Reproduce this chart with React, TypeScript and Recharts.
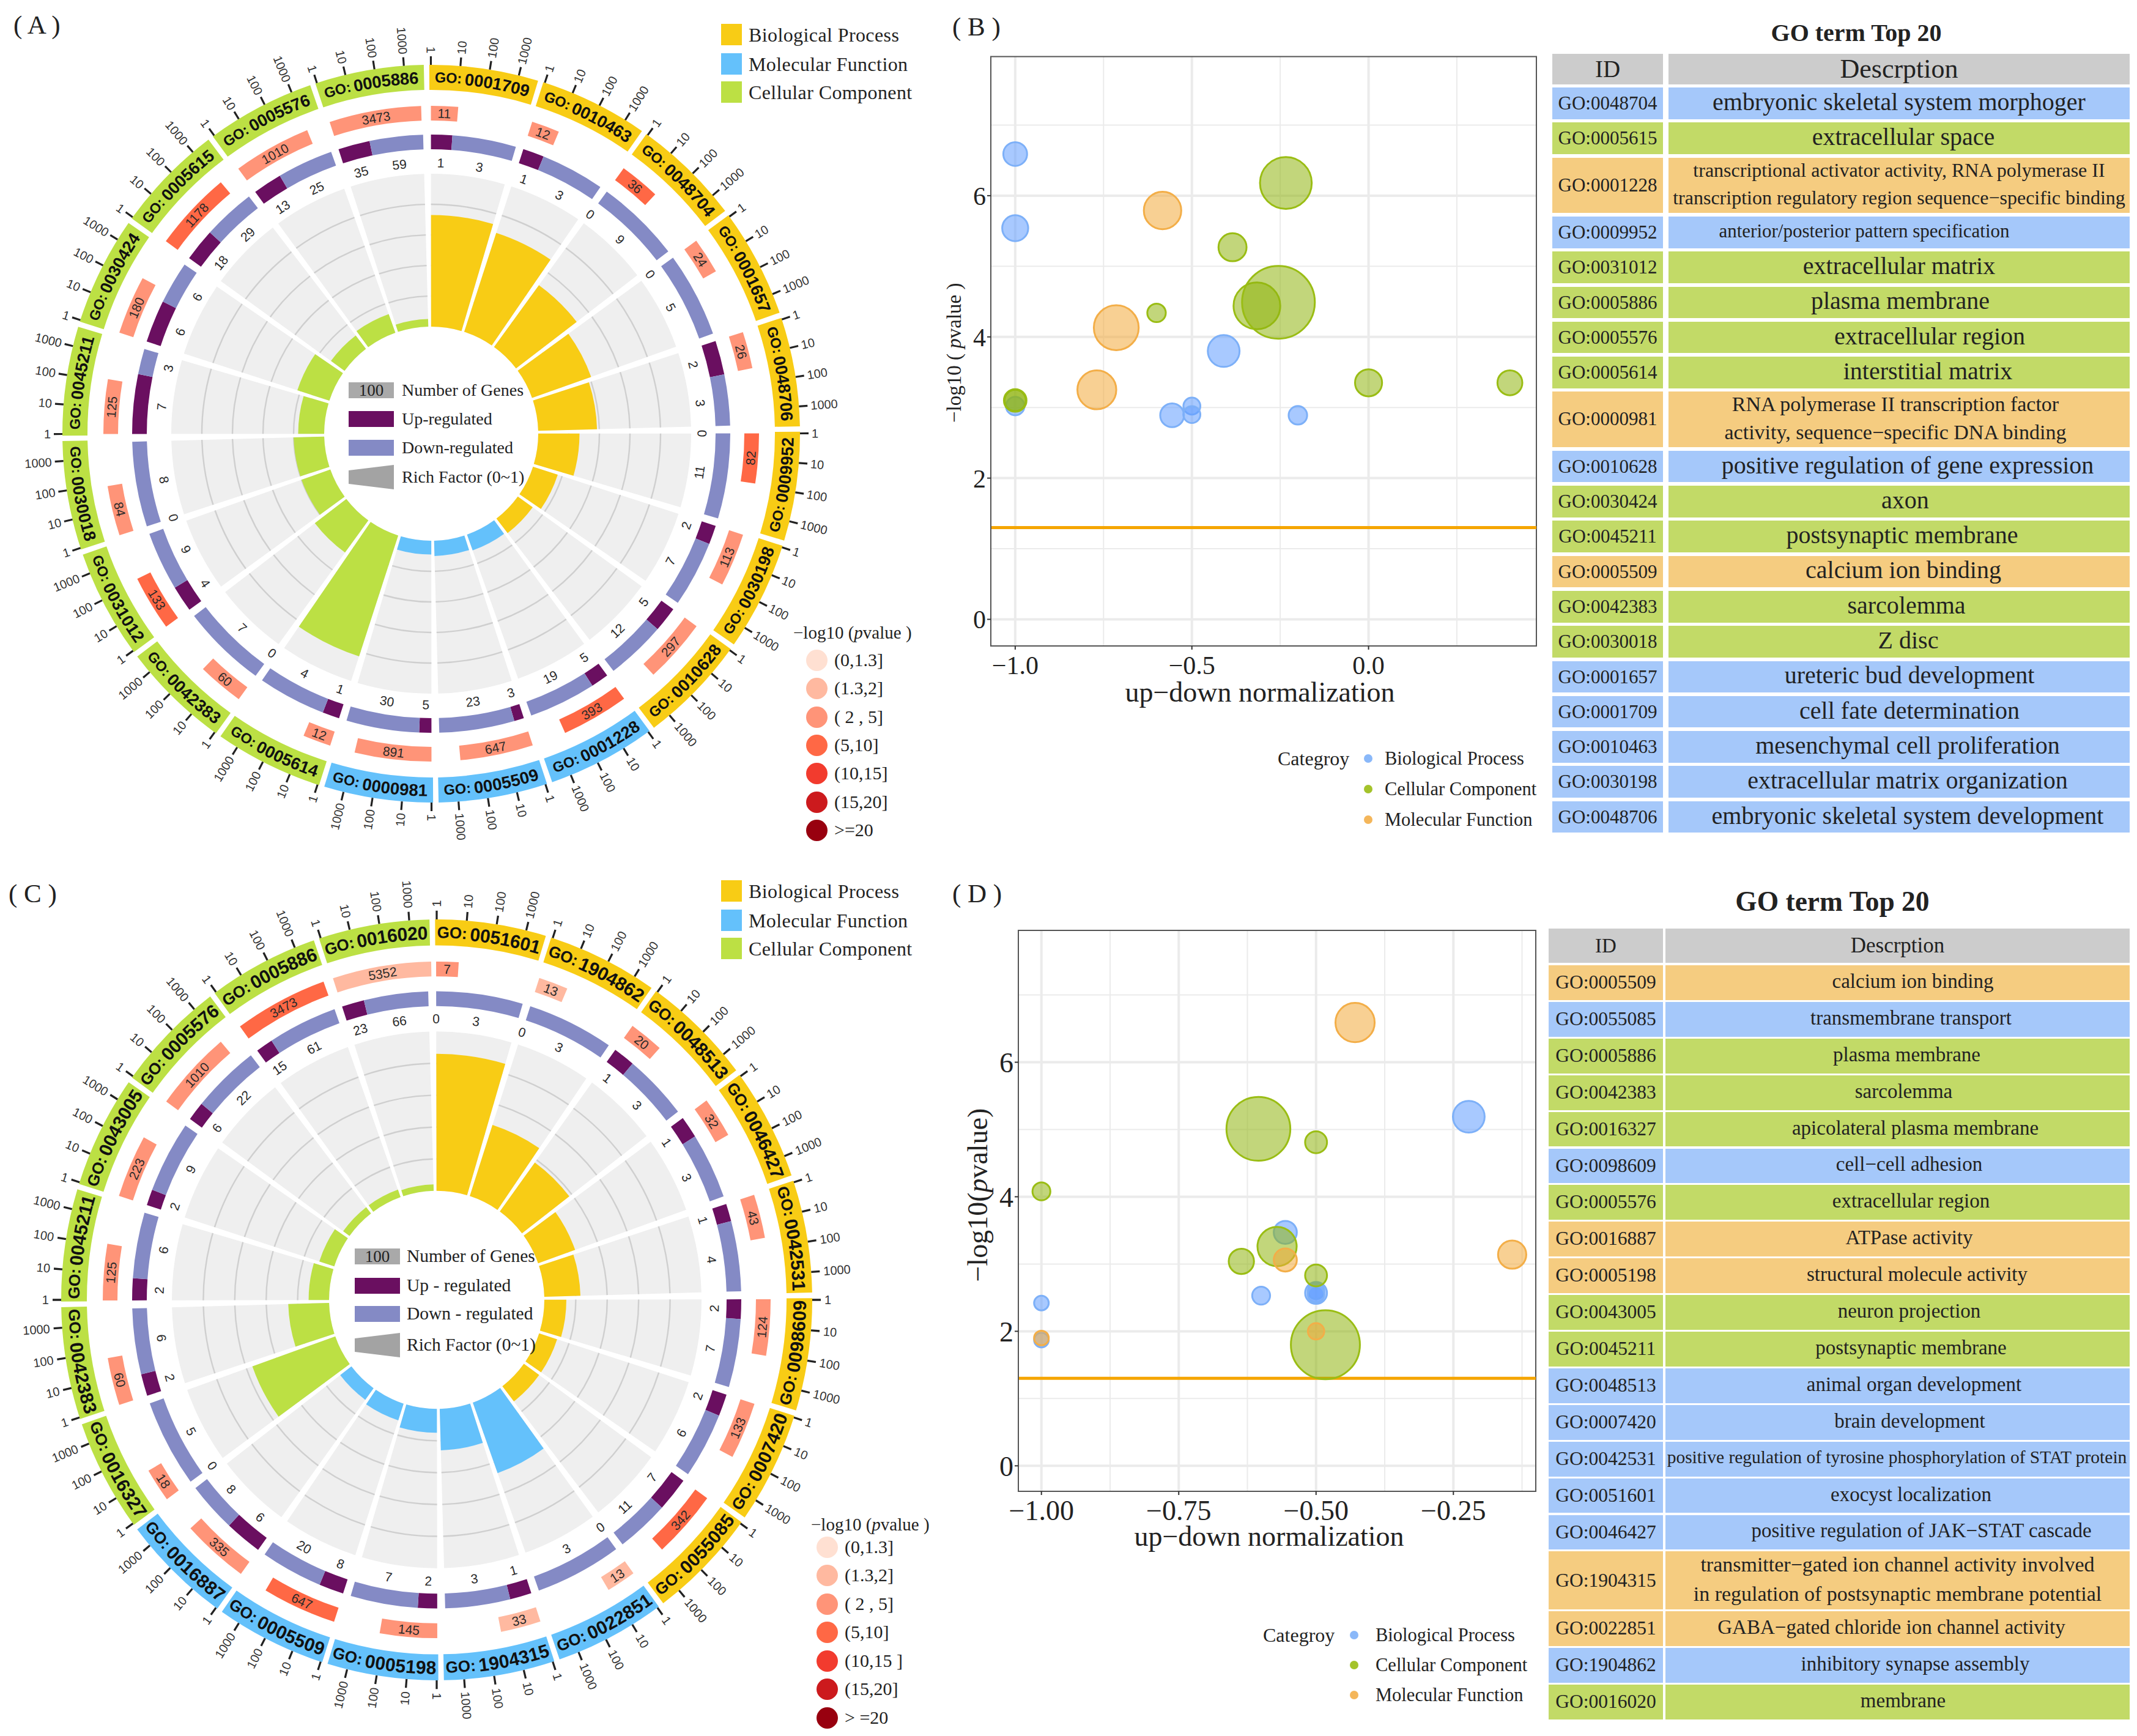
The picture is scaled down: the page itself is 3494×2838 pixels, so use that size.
import { PieChart, Pie, ScatterChart, Scatter, XAxis, YAxis, ZAxis, CartesianGrid, ReferenceLine, ReferenceArea, Label } from 'recharts';

// ---- panel A circle data (clockwise from the top)
const idsA = ['0001709', '0010463', '0048704', '0001657', '0048706', '0009952', '0030198', '0010628', '0001228', '0005509', '0000981', '0005614', '0042383', '0031012', '0030018', '0045211', '0030424', '0005615', '0005576', '0005886'];
const catsA = ['BP', 'BP', 'BP', 'BP', 'BP', 'BP', 'BP', 'BP', 'MF', 'MF', 'MF', 'CC', 'CC', 'CC', 'CC', 'CC', 'CC', 'CC', 'CC', 'CC'];
const countsA = [11, 12, 36, 24, 26, 82, 113, 297, 393, 647, 891, 12, 60, 133, 84, 125, 180, 1178, 1010, 3473];
const binsA = [2, 2, 3, 2, 2, 3, 2, 2, 3, 2, 2, 2, 2, 3, 2, 2, 2, 3, 2, 2];
const upA = [1, 1, 0, 0, 2, 0, 2, 5, 5, 3, 5, 1, 0, 4, 0, 7, 6, 18, 13, 35];
const downA = [3, 3, 9, 5, 3, 11, 7, 12, 19, 23, 30, 4, 7, 9, 8, 3, 6, 29, 25, 59];
const richA = [0.73, 0.68, 0.5, 0.41, 0.385, 0.27, 0.17, 0.12, 0.11, 0.1, 0.09, 0.83, 0.26, 0.2, 0.2, 0.17, 0.22, 0.11, 0.13, 0.05];

// ---- panel C circle data
const idsC = ['0051601', '1904862', '0048513', '0046427', '0042531', '0098609', '0007420', '0055085', '0022851', '1904315', '0005198', '0005509', '0016887', '0016327', '0042383', '0045211', '0043005', '0005576', '0005886', '0016020'];
const catsC = ['BP', 'BP', 'BP', 'BP', 'BP', 'BP', 'BP', 'BP', 'MF', 'MF', 'MF', 'MF', 'MF', 'CC', 'CC', 'CC', 'CC', 'CC', 'CC', 'CC'];
const countsC = [7, 13, 20, 32, 43, 124, 133, 342, 13, 33, 145, 647, 335, 18, 60, 125, 223, 1010, 3473, 5352];
const binsC = [2, 1, 2, 2, 2, 2, 2, 3, 1, 1, 2, 3, 2, 2, 2, 2, 2, 2, 3, 1];
const upC = [0, 0, 1, 1, 1, 2, 2, 7, 0, 1, 2, 8, 6, 0, 2, 2, 2, 6, 15, 23];
const downC = [3, 3, 3, 3, 4, 7, 6, 11, 3, 3, 7, 20, 8, 5, 6, 6, 9, 22, 61, 66];
const richC = [0.86, 0.47, 0.38, 0.25, 0.23, 0.14, 0.12, 0.12, 0.47, 0.26, 0.15, 0.11, 0.09, 0.56, 0.26, 0.13, 0.1, 0.05, 0.05, 0.04];

const tickLabels = ['1', '10', '100', '1000'];
const binLabelsA = ['(0,1.3]', '(1.3,2]', '( 2 , 5]', '(5,10]', '(10,15]', '(15,20]', '>=20'];
const binLabelsC = ['(0,1.3]', '(1.3,2]', '( 2 , 5]', '(5,10]', '(10,15 ]', '(15,20]', '> =20'];
const centerLabelsA = ['Number of Genes', 'Up-regulated', 'Down-regulated', 'Rich Factor (0~1)'];
const centerLabelsC = ['Number of Genes', 'Up - regulated', 'Down - regulated', 'Rich Factor (0~1)'];
const topLegend = ['Biological Process', 'Molecular Function', 'Cellular Component'];

// ---- bubble data, panel B
const bBlueX = [-1, -1, -0.41, -1, -0.5, -0.5, -0.556, -0.2];
const bBlueY = [6.59, 5.54, 3.8, 3.02, 3.02, 2.9, 2.89, 2.89];
const bBlueN = [9, 11, 17, 5, 4, 4, 9, 5];
const bGreenX = [-0.234, -0.385, -0.6, -0.316, -0.255, -1, -1, 0, 0.4];
const bGreenY = [6.18, 5.27, 4.34, 4.44, 4.49, 3.1, 3.1, 3.35, 3.35];
const bGreenN = [47, 13, 5, 38, 94, 7, 8, 12, 10];
const bOrangeX = [-0.583, -0.714, -0.769];
const bOrangeY = [5.79, 4.13, 3.25];
const bOrangeN = [24, 35, 26];

// ---- bubble data, panel D
const dBlueX = [-0.222, -0.556, -0.6, -0.5, -0.5, -0.5, -1, -1];
const dBlueY = [5.19, 3.47, 2.53, 2.57, 2.6, 2.55, 2.42, 1.87];
const dBlueN = [18, 9, 5, 8, 4, 4, 3, 3];
const dGreenX = [-0.605, -0.5, -1, -0.571, -0.636, -0.5, -0.483];
const dGreenY = [5.01, 4.81, 4.08, 3.26, 3.04, 2.83, 1.8];
const dGreenN = [76, 8, 5, 28, 11, 8, 89];
const dOrangeX = [-0.429, -0.143, -0.556, -1, -0.5];
const dOrangeY = [6.59, 3.14, 3.06, 1.9, 2.0];
const dOrangeN = [28, 14, 9, 3, 4];

// ---- tables
const tableIdsB = ['0048704', '0005615', '0001228', '0009952', '0031012', '0005886', '0005576', '0005614', '0000981', '0010628', '0030424', '0045211', '0005509', '0042383', '0030018', '0001657', '0001709', '0010463', '0030198', '0048706'];
const tableCatsB = ['BP', 'CC', 'MF', 'BP', 'CC', 'CC', 'CC', 'CC', 'MF', 'BP', 'CC', 'CC', 'MF', 'CC', 'CC', 'BP', 'BP', 'BP', 'BP', 'BP'];
const tableDescB = ['embryonic skeletal system morphoger', 'extracellular space', 'transcriptional activator activity, RNA polymerase II\ntranscription regulatory region sequence−specific binding', 'anterior/posterior pattern specification', 'extracellular matrix', 'plasma membrane', 'extracellular region', 'interstitial matrix', 'RNA polymerase II transcription factor\nactivity, sequence−specific DNA binding', 'positive regulation of gene expression', 'axon', 'postsynaptic membrane', 'calcium ion binding', 'sarcolemma', 'Z disc', 'ureteric bud development', 'cell fate determination', 'mesenchymal cell proliferation', 'extracellular matrix organization', 'embryonic skeletal system development'];
const tableSizeB = [40, 40, 32, 31, 40, 40, 40, 40, 34, 40, 40, 40, 40, 40, 40, 40, 40, 40, 40, 40];
const tableShiftB = [0, 7, 0, -57, 0, 2, 50, 47, -6, 14, 10, 5, 7, 12, 15, 17, 17, 14, 14, 14];

const tableIdsD = ['0005509', '0055085', '0005886', '0042383', '0016327', '0098609', '0005576', '0016887', '0005198', '0043005', '0045211', '0048513', '0007420', '0042531', '0051601', '0046427', '1904315', '0022851', '1904862', '0016020'];
const tableCatsD = ['MF', 'BP', 'CC', 'CC', 'CC', 'BP', 'CC', 'MF', 'MF', 'CC', 'CC', 'BP', 'BP', 'BP', 'BP', 'BP', 'MF', 'MF', 'BP', 'CC'];
const tableDescD = ['calcium ion binding', 'transmembrane transport', 'plasma membrane', 'sarcolemma', 'apicolateral plasma membrane', 'cell−cell adhesion', 'extracellular region', 'ATPase activity', 'structural molecule activity', 'neuron projection', 'postsynaptic membrane', 'animal organ development', 'brain development', 'positive regulation of tyrosine phosphorylation of STAT protein', 'exocyst localization', 'positive regulation of JAK−STAT cascade', 'transmitter−gated ion channel activity involved\nin regulation of postsynaptic membrane potential', 'GABA−gated chloride ion channel activity', 'inhibitory synapse assembly', 'membrane'];
const tableSizeD = [33, 33, 33, 33, 33, 33, 33, 33, 33, 33, 33, 33, 33, 29.5, 33, 33, 34, 33, 33, 33];
const tableShiftD = [25, 22, 15, 10, 29, 19, 22, 19, 32, 19, 22, 27, 20, -1, 22, 39, 0, -10, 29, 9];

const SERIF = '"Liberation Serif"';
const SANS = '"Liberation Sans"';
const ringColor: Record<string, string> = { BP: '#F8CC15', MF: '#64C1FB', CC: '#BCE044' };
const rowColor: Record<string, string> = { BP: '#A5C8FA', MF: '#F5CC80', CC: '#C2DA67' };
const binColor = ['#FFE0D2', '#FFB9A0', '#FF9478', '#FF6845', '#F23B2E', '#CC1A1D', '#98000F'];
const UP = '#6A0F60';
const DOWN = '#848AC5';
const SECTOR = 18;
const DECADE = 4.6;
const SPAN = 16.5;

const rad = (a: number) => (a * Math.PI) / 180;

function tangentRotation(midAngle: number) {
  const theta = ((90 - midAngle) % 360 + 360) % 360;
  return theta > 90 && theta < 270 ? theta + 180 : theta;
}

function Circle({ geo, ids, cats, counts, bins, up, down, rich }: any) {
  const { cx, cy, rot, idRot, hole, grey, labelR, downIn, downOut, redIn, redOut, idIn, idOut, tickOut, tickText, idSize } = geo;
  const common = { cx, cy, dataKey: 'value', stroke: 'none', isAnimationActive: false, labelLine: false };

  const tangentLabel = (r: number, size: number) => (p: any) => {
    const text = p.payload?.text;
    if (text === undefined) return null;
    const x = cx + r * Math.cos(rad(p.midAngle));
    const y = cy - r * Math.sin(rad(p.midAngle));
    return (
      <text x={x} y={y} textAnchor="middle" dominantBaseline="central" fontSize={size} fontFamily={SANS} fill="#2a2a2a"
        transform={`rotate(${tangentRotation(p.midAngle)} ${x} ${y})`}>{text}</text>
    );
  };

  const idLabel = (p: any) => {
    const r = (idIn + idOut) / 2;
    const a = p.midAngle;
    const half = SPAN / 2 + 0.6;
    const flip = tangentRotation(a) !== ((90 - a) % 360 + 360) % 360;
    const from = flip ? a - half : a + half;
    const to = flip ? a + half : a - half;
    const pid = `arc-${cx}-${cy}-${p.index}`;
    const d = `M ${cx + r * Math.cos(rad(from))} ${cy - r * Math.sin(rad(from))} A ${r} ${r} 0 0 ${flip ? 0 : 1} ${cx + r * Math.cos(rad(to))} ${cy - r * Math.sin(rad(to))}`;
    return (
      <g>
        <path id={pid} d={d} fill="none" />
        <text fontSize={idSize} fontWeight="bold" fontFamily={SANS} fill="#111" dominantBaseline="central" textAnchor="middle">
          <textPath href={`#${pid}`} startOffset="50%"><tspan fontSize={idSize - 4}>GO:</tspan><tspan dx={5}>{p.payload.id}</tspan></textPath>
        </text>
      </g>
    );
  };

  const tickLabel = (p: any) => {
    const text = p.payload?.tick;
    if (text === undefined) return null;
    const x = cx + tickText * Math.cos(rad(p.midAngle));
    const y = cy - tickText * Math.sin(rad(p.midAngle));
    const theta = ((90 - p.midAngle) % 360 + 360) % 360;
    const right = theta <= 180;
    return (
      <text x={x} y={y} textAnchor={right ? 'start' : 'end'} dominantBaseline="central" fontSize={20} fontFamily={SANS} fill="#333"
        transform={`rotate(${right ? theta - 90 : theta + 90} ${x} ${y})`}>{text}</text>
    );
  };

  const sectorRows = ids.map((id: string, i: number) => ({ id, value: 1, fill: ringColor[cats[i]] }));
  const greyRows = ids.map((id: string) => ({ id, value: 1, fill: '#EFEFEF' }));
  const gridRows = ids.map((id: string) => ({ id, value: 1, fill: '#CFCFCF' }));

  const redRows = counts.flatMap((c: number, i: number) => {
    const bar = Math.log10(c) * DECADE;
    return [{ value: bar, fill: binColor[bins[i]], text: c }, { value: SECTOR - bar, fill: 'none' }];
  });
  const regRows = up.flatMap((u: number, i: number) => {
    const total = u + down[i];
    return [
      { value: (SPAN * u) / total, fill: UP, text: u },
      { value: (SPAN * down[i]) / total, fill: DOWN, text: down[i] },
      { value: SECTOR - SPAN, fill: 'none' },
    ];
  });
  const tickW = 0.3;
  const tickRows = ids.flatMap(() =>
    tickLabels.flatMap((t, k) => [
      { value: tickW, fill: '#222', tick: t },
      { value: (k === 3 ? SECTOR - 3 * DECADE : DECADE) - tickW, fill: 'none' },
    ]),
  );

  return (
    <PieChart width={1540} height={1420} margin={{ top: 0, right: 0, bottom: 0, left: 0 }}>
      <Pie {...common} data={greyRows} innerRadius={hole} outerRadius={grey} startAngle={rot} endAngle={rot - 360} paddingAngle={SECTOR - SPAN} />
      {[0.2, 0.4, 0.6, 0.8].map((g) => (
        <Pie key={g} {...common} data={gridRows} innerRadius={hole + g * (grey - hole) - 1.2} outerRadius={hole + g * (grey - hole) + 1.2} startAngle={rot} endAngle={rot - 360} paddingAngle={SECTOR - SPAN} />
      ))}
      {rich.map((v: number, i: number) => (
        <Pie key={`rich-${i}`} {...common} data={[{ value: SPAN, fill: ringColor[cats[i]] }, { value: 360 - SPAN, fill: 'none' }]}
          innerRadius={hole} outerRadius={hole + v * (grey - hole)} startAngle={rot - SECTOR * i} endAngle={rot - SECTOR * i - 360} />
      ))}
      <Pie {...common} data={regRows} innerRadius={downIn} outerRadius={downOut} startAngle={rot} endAngle={rot - 360} label={tangentLabel(labelR, 21)} />
      <Pie {...common} data={redRows} innerRadius={redIn} outerRadius={redOut} startAngle={rot} endAngle={rot - 360} label={tangentLabel((redIn + redOut) / 2, 21)} />
      <Pie {...common} data={sectorRows} innerRadius={idIn} outerRadius={idOut} startAngle={idRot} endAngle={idRot - 360} paddingAngle={0.85} label={idLabel} />
      <Pie {...common} data={tickRows} innerRadius={idOut} outerRadius={tickOut} startAngle={idRot - 0.1} endAngle={idRot - 360.1} label={tickLabel} />
    </PieChart>
  );
}

const fmtMinus = (digits: number) => (v: number) => v.toFixed(digits).replace('-', '−');
const toPoints = (xs: number[], ys: number[], ns: number[]) => xs.map((x, i) => ({ x, y: ys[i], n: ns[i] }));

function Bubbles({ box, plot, xDomain, xTicks, xMinor, digits, zDomain, zRange, blue, green, orange, labelOffset, labelDx, tickMargin }: any) {
  const yDomain = plot.yDomain;
  return (
    <div style={{ position: 'absolute', left: box.left, top: box.top }}>
      <ScatterChart width={box.width} height={box.height}
        margin={{ top: plot.top - box.top, left: 0, right: box.left + box.width - plot.right, bottom: box.top + box.height - plot.bottom - 110 }}>
        <CartesianGrid stroke="#EBEBEB" strokeWidth={2} verticalValues={xMinor} horizontalValues={[1, 3, 5, 7]} />
        <CartesianGrid stroke="#EBEBEB" strokeWidth={4} verticalValues={xTicks} horizontalValues={[0, 2, 4, 6]} />
        <XAxis type="number" dataKey="x" domain={xDomain} ticks={xTicks} allowDataOverflow height={110} tickFormatter={fmtMinus(digits)}
          tick={{ fontFamily: SERIF, fontSize: digits === 1 ? 42 : 46, fill: '#222' }} tickLine={{ stroke: '#333', strokeWidth: 2 }} axisLine={{ stroke: '#555', strokeWidth: 2 }} tickSize={6} tickMargin={tickMargin} interval={0}>
          <Label value="up−down normalization" position="insideBottom" offset={labelOffset} dx={labelDx} fontFamily={SERIF} fontSize={46} fill="#222" />
        </XAxis>
        <YAxis type="number" dataKey="y" domain={yDomain} ticks={[0, 2, 4, 6]} allowDataOverflow width={plot.left - box.left}
          tick={{ fontFamily: SERIF, fontSize: digits === 1 ? 42 : 46, fill: '#222' }} tickLine={{ stroke: '#333', strokeWidth: 2 }} axisLine={{ stroke: '#555', strokeWidth: 2 }} tickSize={6} tickMargin={2} interval={0} />
        <ZAxis type="number" dataKey="n" domain={zDomain} range={zRange} />
        <ReferenceArea x1={xDomain[0]} x2={xDomain[1]} y1={yDomain[0]} y2={yDomain[1]} fill="none" stroke="#555" strokeWidth={2} />
        <ReferenceLine y={1.3} stroke="#F5A500" strokeWidth={5} />
        <Scatter data={blue} fill="#619CFF" fillOpacity={0.55} stroke="#7DB0F8" strokeWidth={3} isAnimationActive={false} />
        <Scatter data={green} fill="#8FB50F" fillOpacity={0.55} stroke="#9ABD14" strokeWidth={3} isAnimationActive={false} />
        <Scatter data={orange} fill="#F2A93B" fillOpacity={0.55} stroke="#F3AE48" strokeWidth={3} isAnimationActive={false} />
      </ScatterChart>
    </div>
  );
}

function abs(left: number, top: number, extra: any = {}) {
  return { position: 'absolute', left, top, whiteSpace: 'nowrap', ...extra } as any;
}

function TextAt({ x, y, size, children, font = SERIF, extra = {} }: any) {
  // y is the vertical centre of the line
  return <div style={abs(x, y - size * 0.6, { fontFamily: font, fontSize: size, lineHeight: `${size * 1.2}px`, color: '#222', ...extra })}>{children}</div>;
}

function TopLegend({ x, ys, textX }: any) {
  return (
    <>
      {topLegend.map((t, i) => (
        <div key={t}>
          <div style={abs(x, ys[i], { width: 34, height: 35, background: [ringColor.BP, ringColor.MF, ringColor.CC][i] })} />
          <TextAt x={textX} y={ys[i] + 18} size={32} extra={{ letterSpacing: 0.4 }}>{t}</TextAt>
        </div>
      ))}
    </>
  );
}

function PLegend({ titleX, titleY, cx, ys, textX, labels }: any) {
  return (
    <>
      <TextAt x={titleX} y={titleY} size={29}>−log10 (<i>p</i>value )</TextAt>
      {labels.map((l: string, i: number) => (
        <div key={l}>
          <div style={abs(cx - 17.5, ys[i] - 17.5, { width: 35, height: 35, borderRadius: 18, background: binColor[i] })} />
          <TextAt x={textX} y={ys[i]} size={30}>{l}</TextAt>
        </div>
      ))}
    </>
  );
}

function CenterLegend({ x, textX, ys, labels, size }: any) {
  return (
    <>
      <div style={abs(x, ys[0] - 13, { width: 74, height: 26, background: '#A9A9A9', textAlign: 'center', fontFamily: SERIF, fontSize: 27, lineHeight: '26px', color: '#222' })}>100</div>
      <div style={abs(x, ys[1] - 13, { width: 74, height: 26, background: UP })} />
      <div style={abs(x, ys[2] - 13, { width: 74, height: 26, background: DOWN })} />
      <svg style={abs(x, ys[3] - 20)} width={74} height={40}><polygon points="0,9 74,0 74,40 0,31" fill="#A3A3A3" /></svg>
      {labels.map((l: string, i: number) => <TextAt key={l} x={textX} y={ys[i]} size={size}>{l}</TextAt>)}
    </>
  );
}

function CategoryLegend({ x, dotX, textX, ys }: any) {
  const names = ['Biological Process', 'Cellular Component', 'Molecular Function'];
  const cols = ['#7DB0F8', '#9ABD14', '#F3AE48'];
  return (
    <>
      <TextAt x={x} y={ys[0]} size={32}>Categroy</TextAt>
      {names.map((n, i) => (
        <div key={n}>
          <div style={abs(dotX - 7, ys[i] - 7, { width: 14, height: 14, borderRadius: 7, background: cols[i], opacity: 0.9 })} />
          <TextAt x={textX} y={ys[i]} size={30.5}>{n}</TextAt>
        </div>
      ))}
    </>
  );
}

function GoTable({ top, headTop, headH, idX, idW, descX, descW, rowH, bigH, gap, ids, cats, descs, sizes, shifts, idSize, headSizes }: any) {
  let y = top;
  const rows = ids.map((id: string, i: number) => {
    const double = descs[i].includes('\n');
    const h = double ? bigH : rowH;
    const row = (
      <div key={id}>
        <div style={abs(idX, y, { width: idW, height: h, lineHeight: `${h}px`, textAlign: 'center', background: rowColor[cats[i]], fontFamily: SERIF, fontSize: idSize, color: '#222' })}>GO:{id}</div>
        <div style={{ ...abs(descX, y, { width: descW, height: h, background: rowColor[cats[i]] }), display: 'flex', alignItems: 'center', justifyContent: 'center' }}>
          <div style={{ whiteSpace: 'pre', textAlign: 'center', fontFamily: SERIF, fontSize: sizes[i], lineHeight: double ? `${h / 2}px` : 1, color: '#222', transform: `translate(${shifts[i]}px, -2px)` }}>{descs[i]}</div>
        </div>
      </div>
    );
    y += h + gap;
    return row;
  });
  return (
    <>
      <div style={abs(idX, headTop, { width: idW, height: headH, lineHeight: `${headH}px`, textAlign: 'center', background: '#CCCCCC', fontFamily: SERIF, fontSize: headSizes[0], color: '#222' })}>ID</div>
      <div style={abs(descX, headTop, { width: descW, height: headH, lineHeight: `${headH}px`, textAlign: 'center', background: '#CCCCCC', fontFamily: SERIF, fontSize: headSizes[1], color: '#222' })}>Descrption</div>
      {rows}
    </>
  );
}

const geoA = { cx: 705, cy: 709, rot: 90.05, idRot: 90.3, hole: 175, grey: 425, labelR: 443, downIn: 465, downOut: 489, redIn: 512, redOut: 536, idIn: 562, idOut: 603, tickOut: 617, tickText: 622, idSize: 27.5 };
const geoC = { cx: 714, cy: 705, rot: 90.1, idRot: 90.25, hole: 176, grey: 433, labelR: 454, downIn: 474, downOut: 498, redIn: 522, redOut: 546, idIn: 572, idOut: 614, tickOut: 628, tickText: 634, idSize: 30 };

export default function App() {
  return (
    <div style={{ position: 'absolute', left: 0, top: 0, width: 3494, height: 2838, background: '#fff', overflow: 'hidden' }}>
      <TextAt x={22} y={41} size={43}>( A )</TextAt>
      <TextAt x={1557} y={44} size={43}>( B )</TextAt>
      <TextAt x={14} y={1461} size={43}>( C )</TextAt>
      <TextAt x={1557} y={1461} size={43}>( D )</TextAt>

      <div style={{ position: 'absolute', left: 0, top: 0 }}>
        <Circle geo={geoA} ids={idsA} cats={catsA} counts={countsA} bins={binsA} up={upA} down={downA} rich={richA} />
      </div>
      <div style={{ position: 'absolute', left: 0, top: 1420, transform: 'scaleY(1.013)', transformOrigin: `0 ${geoC.cy}px` }}>
        <Circle geo={geoC} ids={idsC} cats={catsC} counts={countsC} bins={binsC} up={upC} down={downC} rich={richC} />
      </div>

      <TopLegend x={1179} textX={1224} ys={[39, 87, 133]} />
      <TopLegend x={1179} textX={1224} ys={[1439, 1487, 1533]} />
      <PLegend titleX={1297} titleY={1034} cx={1335} textX={1364} ys={[1079, 1125, 1172, 1218, 1264, 1311, 1357]} labels={binLabelsA} />
      <PLegend titleX={1326} titleY={2492} cx={1352} textX={1381} ys={[2529, 2575, 2622, 2668, 2715, 2761, 2808]} labels={binLabelsC} />
      <CenterLegend x={570} textX={657} ys={[638, 685, 732, 780]} labels={centerLabelsA} size={28} />
      <CenterLegend x={580} textX={665} ys={[2054, 2102, 2148, 2199]} labels={centerLabelsC} size={29.5} />

      <Bubbles box={{ left: 1560, top: 60, width: 980, height: 1130 }} plot={{ left: 1620, right: 2512, top: 92.5, bottom: 1056, yDomain: [-0.377, 7.97] }}
        xDomain={[-1.069, 0.475]} xTicks={[-1, -0.5, 0]} xMinor={[-0.75, -0.25, 0.25]} digits={1} zDomain={[4, 94]} zRange={[600, 11122]} labelOffset={19} labelDx={-6} tickMargin={10}
        blue={toPoints(bBlueX, bBlueY, bBlueN)} green={toPoints(bGreenX, bGreenY, bGreenN)} orange={toPoints(bOrangeX, bOrangeY, bOrangeN)} />
      <Bubbles box={{ left: 1600, top: 1490, width: 940, height: 1100 }} plot={{ left: 1665, right: 2511, top: 1521, bottom: 2438, yDomain: [-0.379, 7.96] }}
        xDomain={[-1.042, -0.1]} xTicks={[-1, -0.75, -0.5, -0.25]} xMinor={[-0.875, -0.625, -0.375, -0.125]} digits={2} zDomain={[3, 89]} zRange={[450, 10000]} labelOffset={21} labelDx={-13} tickMargin={8}
        blue={toPoints(dBlueX, dBlueY, dBlueN)} green={toPoints(dGreenX, dGreenY, dGreenN)} orange={toPoints(dOrangeX, dOrangeY, dOrangeN)} />

      <TextAt x={1561} y={577} size={33} extra={{ transform: 'translateX(-50%) rotate(-90deg)' }}>−log10 ( <i>p</i>value )</TextAt>
      <TextAt x={1599} y={1954} size={46} extra={{ transform: 'translateX(-50%) rotate(-90deg)' }}>−log10(<i>p</i>value)</TextAt>

      <CategoryLegend x={2089} dotX={2237} textX={2264} ys={[1240, 1290, 1340]} />
      <CategoryLegend x={2065} dotX={2214} textX={2249} ys={[2673, 2722, 2771]} />

      <TextAt x={3035} y={54} size={40} extra={{ fontWeight: 'bold', transform: 'translateX(-50%)' }}>GO term Top 20</TextAt>
      <TextAt x={2996} y={1474} size={45.5} extra={{ fontWeight: 'bold', transform: 'translateX(-50%)' }}>GO term Top 20</TextAt>

      <GoTable top={143} headTop={88} headH={50} idX={2538} idW={181} descX={2728} descW={754} rowH={51.7} bigH={90.7} gap={5.6}
        ids={tableIdsB} cats={tableCatsB} descs={tableDescB} sizes={tableSizeB} shifts={tableShiftB} idSize={31} headSizes={[39, 44]} />
      <GoTable top={1578} headTop={1518} headH={56} idX={2532} idW={187} descX={2723} descW={759} rowH={56.9} bigH={95} gap={3}
        ids={tableIdsD} cats={tableCatsD} descs={tableDescD} sizes={tableSizeD} shifts={tableShiftD} idSize={31.5} headSizes={[33, 35]} />
    </div>
  );
}
